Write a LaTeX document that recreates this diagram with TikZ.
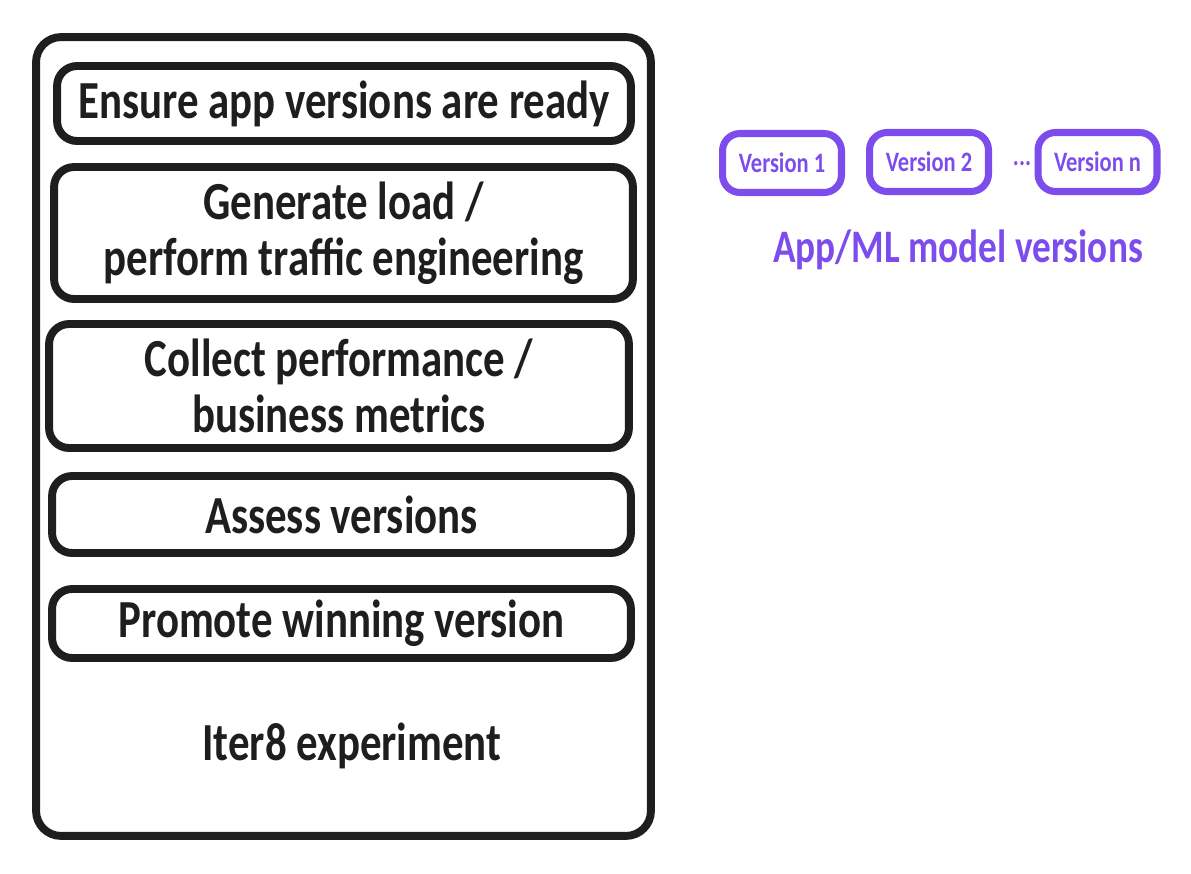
\documentclass[tikz,border=0pt]{standalone}
\usepackage{fontspec}
\setmainfont{Carlito}[FakeStretch=0.8]
\usepackage{tikz}
\definecolor{ink}{RGB}{30,30,30}
\definecolor{verpurple}{RGB}{124,77,236}
\tikzset{
	stage/.style={draw=ink, line width=4.5pt, rounded corners=0.4cm, inner sep=0pt, align=center, text=ink, font=\bfseries\fontsize{30.5}{32}\selectfont},
	version/.style={draw=verpurple, line width=4pt, rounded corners=0.35cm, inner sep=0pt, minimum width=2.38cm, minimum height=1.18cm, text=verpurple, font=\bfseries\fontsize{16}{18}\selectfont}
}

\begin{document}
\begin{tikzpicture}[x=0.02cm,y=-0.02cm]
\useasboundingbox (0,0) rectangle (1191,873);
% the experiment and its steps
\node[stage, rounded corners=0.5cm, minimum width=12.3cm, minimum height=15.98cm] (experiment) at (343.5,436.5) {};
\node[stage, minimum width=11.48cm, minimum height=1.5cm] (ready) at (344,103.5) {Ensure app versions are ready};
\node[stage, minimum width=11.58cm, minimum height=2.64cm] (load) at (343.5,233) {Generate load /\\perform traffic engineering};
\node[stage, minimum width=11.6cm, minimum height=2.48cm] (collect) at (339,386) {Collect performance /\\business metrics};
\node[stage, minimum width=11.58cm, minimum height=1.54cm] (assess) at (341.5,514.5) {Assess versions};
\node[stage, minimum width=11.58cm, minimum height=1.38cm] (promote) at (341.5,623.5) {Promote winning version};
\node[text=ink, font=\bfseries\fontsize{30.5}{32}\selectfont] (label) at (352,746) {Iter8 experiment};
% versions
\node[version] (v1) at (782,163) {Version 1};
\node[version] (v2) at (929,162) {Version 2};
\node[version] (vn) at (1097.5,162) {Version n};
\node[text=verpurple, font=\bfseries\fontsize{16}{18}\selectfont] (dots) at (1022,164) {...};
\node[text=verpurple, font=\bfseries\fontsize{26.5}{30}\selectfont] (versions) at (958,250) {App/ML model versions};
\end{tikzpicture}
\end{document}
